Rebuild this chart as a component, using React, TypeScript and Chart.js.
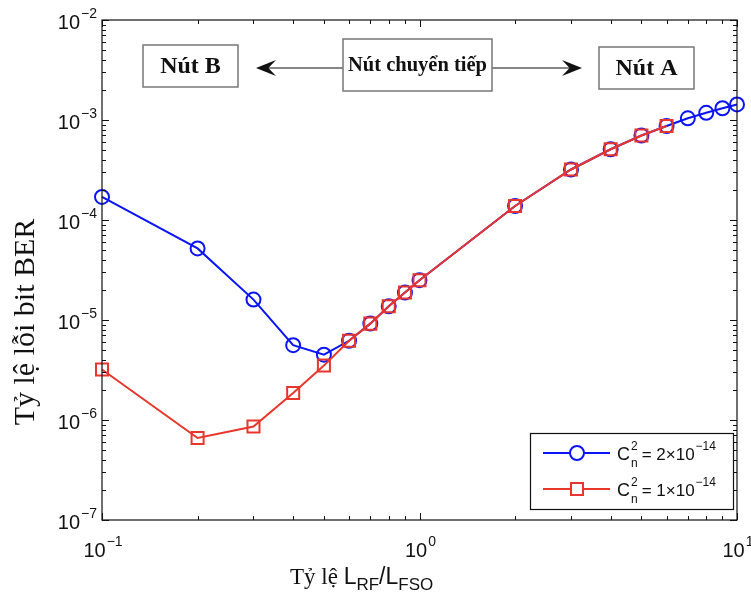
import { useEffect, useRef } from 'react';
import { Chart, registerables } from 'chart.js';

Chart.register(...registerables);

// ---- data ----
const ratios = [0.1, 0.2, 0.3, 0.4, 0.5, 0.6, 0.7, 0.8, 0.9, 1, 2, 3, 4, 5, 6, 7, 8, 9, 10];
const berCn2e14 = [
  1.7e-4, 5.2e-5, 1.6e-5, 5.6e-6, 4.5e-6, 6.2e-6, 9.2e-6, 1.37e-5, 1.88e-5, 2.5e-5,
  1.38e-4, 3.2e-4, 5.1e-4, 7.0e-4, 8.7e-4, 1.04e-3, 1.18e-3, 1.31e-3, 1.43e-3,
];
const berCn1e14 = [
  3.2e-6, 6.6e-7, 8.6e-7, 1.86e-6, 3.5e-6, 6.2e-6, 9.2e-6, 1.37e-5, 1.88e-5, 2.5e-5,
  1.38e-4, 3.2e-4, 5.1e-4, 7.0e-4, 8.7e-4,
];
const xDecades = [0.1, 1, 10];
const xDecadeExps = ['\u22121', '0', '1'];
const yDecades = [1e-7, 1e-6, 1e-5, 1e-4, 1e-3, 1e-2];
const yDecadeExps = ['\u22127', '\u22126', '\u22125', '\u22124', '\u22123', '\u22122'];
const legendCoefs = ['2', '1'];
const legendExp = '\u221214';
const yTitle = 'Tỷ lệ lỗi bit BER';
const nodeLabels = ['Nút B', 'Nút chuyển tiếp', 'Nút A'];

const BLUE = '#0a14f5';
const RED = '#e8362c';
const SANS = "'Liberation Sans', Arial, sans-serif";
const SERIF = "'Liberation Serif', 'Times New Roman', serif";

function drawPow(ctx: CanvasRenderingContext2D, exp: string, x: number, y: number, align: 'right' | 'center') {
  ctx.font = `20px ${SANS}`;
  const wb = ctx.measureText('10').width;
  ctx.font = `14px ${SANS}`;
  const we = ctx.measureText(exp).width;
  const total = wb + we + 1;
  const x0 = align === 'right' ? x - total : x - total / 2;
  ctx.textAlign = 'left';
  ctx.textBaseline = 'alphabetic';
  ctx.fillStyle = '#111';
  ctx.font = `20px ${SANS}`;
  ctx.fillText('10', x0, y);
  ctx.font = `14px ${SANS}`;
  ctx.fillText(exp, x0 + wb + 1, y - 11);
}

function arrowHead(ctx: CanvasRenderingContext2D, tx: number, ty: number, dir: number) {
  const L = 20;
  const W = 8;
  ctx.beginPath();
  ctx.moveTo(tx, ty);
  ctx.lineTo(tx - dir * L, ty - W);
  ctx.lineTo(tx - dir * L * 0.62, ty);
  ctx.lineTo(tx - dir * L, ty + W);
  ctx.closePath();
  ctx.fill();
}

const decorPlugin = {
  id: 'decor',
  afterDraw(chart: any) {
    const ctx: CanvasRenderingContext2D = chart.ctx;
    const { left, right, top, bottom } = chart.chartArea;
    const xs = chart.scales.x;
    const ys = chart.scales.y;
    ctx.save();

    // frame
    ctx.strokeStyle = '#111';
    ctx.lineWidth = 1.2;
    ctx.strokeRect(left, top, right - left, bottom - top);

    // ticks
    ctx.lineWidth = 1;
    ctx.beginPath();
    for (let d = 0; d < xDecades.length; d++) {
      for (let m = 1; m <= 9; m++) {
        const v = xDecades[d] * m;
        if (v > xDecades[xDecades.length - 1] + 1e-12) break;
        const px = Math.round(xs.getPixelForValue(v)) + 0.5;
        const len = m === 1 ? 7 : 4;
        ctx.moveTo(px, bottom);
        ctx.lineTo(px, bottom - len);
        ctx.moveTo(px, top);
        ctx.lineTo(px, top + len);
      }
    }
    for (let d = 0; d < yDecades.length; d++) {
      for (let m = 1; m <= 9; m++) {
        const v = yDecades[d] * m;
        if (v > yDecades[yDecades.length - 1] * 1.0001) break;
        const py = Math.round(ys.getPixelForValue(v)) + 0.5;
        const len = m === 1 ? 7 : 4;
        ctx.moveTo(left, py);
        ctx.lineTo(left + len, py);
        ctx.moveTo(right, py);
        ctx.lineTo(right - len, py);
      }
    }
    ctx.stroke();

    // tick labels
    xDecades.forEach((v, i) => {
      drawPow(ctx, xDecadeExps[i], xs.getPixelForValue(v) + 1, bottom + 37, 'center');
    });
    yDecades.forEach((v, i) => {
      drawPow(ctx, yDecadeExps[i], left - 5, ys.getPixelForValue(v) + 9, 'right');
    });

    // y title
    ctx.save();
    ctx.translate(34, 322);
    ctx.rotate(-Math.PI / 2);
    ctx.font = `30px ${SERIF}`;
    ctx.textAlign = 'center';
    ctx.textBaseline = 'alphabetic';
    ctx.fillStyle = '#111';
    ctx.fillText(yTitle, 0, 0);
    ctx.restore();

    // x title: Tỷ lệ L_RF/L_FSO
    {
      let x = 290;
      const by = bottom + 64;
      ctx.textAlign = 'left';
      ctx.fillStyle = '#111';
      const seg = (t: string, font: string, dy: number) => {
        ctx.font = font;
        ctx.fillText(t, x, by + dy);
        x += ctx.measureText(t).width;
      };
      seg('Tỷ lệ ', `23px ${SERIF}`, 0);
      seg('L', `23px ${SANS}`, 0);
      seg('RF', `17px ${SANS}`, 6);
      seg('/L', `23px ${SANS}`, 0);
      seg('FSO', `17px ${SANS}`, 6);
    }

    // legend
    {
      const lx = 530, ly = 433, lw = 203, lh = 76;
      ctx.fillStyle = '#fff';
      ctx.fillRect(lx, ly, lw, lh);
      ctx.strokeStyle = '#111';
      ctx.lineWidth = 1.2;
      ctx.strokeRect(lx + 0.5, ly + 0.5, lw, lh);
      const rows = [
        { color: BLUE, y: ly + 20, marker: 'circle', coef: legendCoefs[0] },
        { color: RED, y: ly + 56, marker: 'rect', coef: legendCoefs[1] },
      ];
      rows.forEach((r) => {
        ctx.strokeStyle = r.color;
        ctx.lineWidth = 2;
        ctx.beginPath();
        ctx.moveTo(543, r.y);
        ctx.lineTo(610, r.y);
        ctx.stroke();
        ctx.fillStyle = '#fff';
        ctx.beginPath();
        if (r.marker === 'circle') {
          ctx.arc(577, r.y, 7, 0, Math.PI * 2);
        } else {
          ctx.rect(571, r.y - 6, 12, 12);
        }
        ctx.fill();
        ctx.stroke();
        // text
        ctx.fillStyle = '#111';
        ctx.textAlign = 'left';
        ctx.textBaseline = 'alphabetic';
        let x = 617;
        const base = r.y + 7;
        ctx.font = `18px ${SANS}`;
        ctx.fillText('C', x, base);
        x += ctx.measureText('C').width + 1;
        ctx.font = `12px ${SANS}`;
        ctx.fillText('2', x, base - 10);
        ctx.fillText('n', x, base + 7);
        x += ctx.measureText('n').width + 4;
        ctx.font = `17px ${SANS}`;
        const t = `= ${r.coef}\u00d710`;
        ctx.fillText(t, x, base);
        x += ctx.measureText(t).width + 1;
        ctx.font = `12px ${SANS}`;
        ctx.fillText(legendExp, x, base - 10);
      });
    }

    // node annotation boxes
    const box = (x: number, y: number, w: number, h: number, text: string, size: number) => {
      ctx.fillStyle = '#fff';
      ctx.fillRect(x, y, w, h);
      ctx.strokeStyle = '#777';
      ctx.lineWidth = 1.5;
      ctx.strokeRect(x, y, w, h);
      ctx.fillStyle = '#111';
      ctx.font = `bold ${size}px ${SERIF}`;
      ctx.textAlign = 'center';
      ctx.textBaseline = 'middle';
      ctx.fillText(text, x + w / 2, y + h / 2 + 1);
    };
    const ay = 68;
    ctx.strokeStyle = '#111';
    ctx.fillStyle = '#111';
    ctx.lineWidth = 1.2;
    ctx.beginPath();
    ctx.moveTo(343, ay);
    ctx.lineTo(266, ay);
    ctx.moveTo(492, ay);
    ctx.lineTo(572, ay);
    ctx.stroke();
    arrowHead(ctx, 256, ay, -1);
    arrowHead(ctx, 582, ay, 1);
    box(143, 45, 95, 42, nodeLabels[0], 24);
    box(343, 39, 149, 52, nodeLabels[1], 20.5);
    box(599, 47, 95, 42, nodeLabels[2], 24);

    ctx.restore();
  },
};

export default function App() {
  const ref = useRef<HTMLCanvasElement | null>(null);
  useEffect(() => {
    document.body.style.margin = '0';
    const canvas = ref.current;
    if (!canvas) return;
    const chart = new Chart(canvas, {
      type: 'line',
      data: {
        datasets: [
          {
            label: 'Cn2 = 2e-14',
            data: ratios.map((x, i) => ({ x, y: berCn2e14[i] })),
            borderColor: BLUE,
            backgroundColor: 'rgba(0,0,0,0)',
            borderWidth: 2,
            pointStyle: 'circle',
            pointRadius: 7,
            pointBorderWidth: 2,
            pointBorderColor: BLUE,
            pointBackgroundColor: 'rgba(0,0,0,0)',
            tension: 0,
            clip: false,
            order: 2,
          },
          {
            label: 'Cn2 = 1e-14',
            data: ratios.slice(0, berCn1e14.length).map((x, i) => ({ x, y: berCn1e14[i] })),
            borderColor: RED,
            backgroundColor: 'rgba(0,0,0,0)',
            borderWidth: 2,
            pointStyle: 'rect',
            pointRadius: 8.5,
            pointBorderWidth: 2,
            pointBorderColor: RED,
            pointBackgroundColor: 'rgba(0,0,0,0)',
            tension: 0,
            clip: false,
            order: 1,
          },
        ],
      },
      options: {
        animation: false,
        responsive: false,
        devicePixelRatio: 1,
        layout: { padding: { left: 102, right: 14, top: 20, bottom: 77 } },
        plugins: { legend: { display: false }, tooltip: { enabled: false } },
        scales: {
          x: { type: 'logarithmic', min: 0.1, max: 10, display: false },
          y: { type: 'logarithmic', min: 1e-7, max: 1e-2, display: false },
        },
      },
      plugins: [decorPlugin],
    });
    return () => chart.destroy();
  }, []);
  return (
    <div style={{ width: 751, height: 597, background: '#fff' }}>
      <canvas ref={ref} width={751} height={597} style={{ display: 'block' }} />
    </div>
  );
}
